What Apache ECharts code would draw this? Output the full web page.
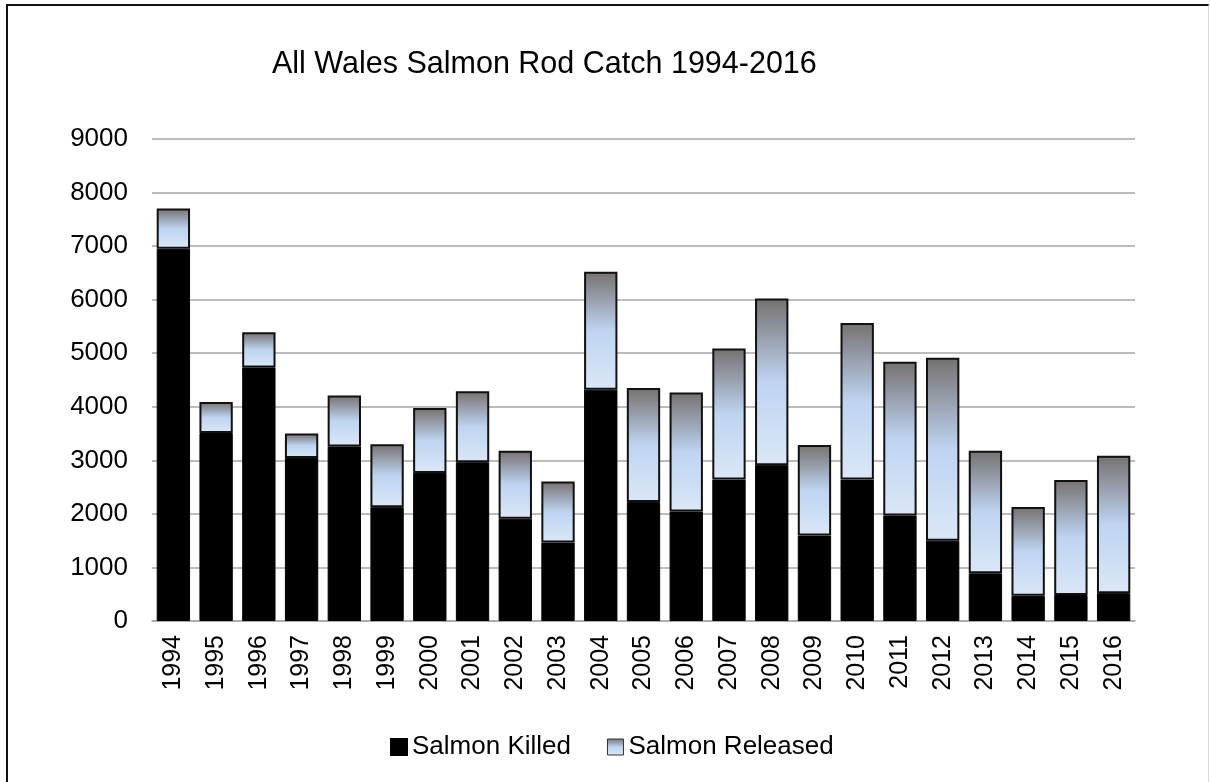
<!DOCTYPE html>
<html lang="en">

<head>
  <meta charset="UTF-8">
  <title>All Wales Salmon Rod Catch 1994-2016</title>
  <script src="https://cdn.jsdelivr.net/npm/echarts@6/dist/echarts.min.js"></script>
  <style>
    html, body { margin: 0; padding: 0; background: #fff; }
    #frame {
      position: absolute; left: 6px; top: 4px; width: 1200px; height: 790px;
      border-left: 2px solid #111; border-top: 2px solid #111; border-right: 1px solid #d9d9d9;
    }
    #c1 { position: absolute; left: 0; top: 0; width: 1210px; height: 782px; }
  </style>
</head>

<body>
<div id="frame"></div>
<div id="c1"></div>

<script>
  // catch per year
  var years = ['1994', '1995', '1996', '1997', '1998', '1999', '2000', '2001', '2002', '2003', '2004', '2005',
    '2006', '2007', '2008', '2009', '2010', '2011', '2012', '2013', '2014', '2015', '2016'];
  var killed = [6950, 3510, 4735, 3045, 3260, 2125, 2765, 2965, 1910, 1465, 4320, 2220,
    2045, 2640, 2910, 1595, 2640, 1970, 1500, 890, 470, 485, 520];
  var released = [750, 580, 655, 455, 950, 1175, 1210, 1325, 1270, 1140, 2200, 2130,
    2220, 2450, 3110, 1690, 2925, 2870, 3415, 2290, 1660, 2150, 2565];
  var yTicks = [0, 9000, 1000]; // min, max, step

  var chartDom = document.getElementById('c1');
  var myChart = echarts.init(chartDom);
  var font = "'Liberation Sans', Arial, sans-serif";

  var releasedFill = new echarts.graphic.LinearGradient(0, 0, 0, 1, [
    { offset: 0, color: '#767171' },
    { offset: 0.5, color: '#bed4f1' },
    { offset: 1, color: '#dbe7f7' }
  ]);

  var option = {
    animation: false,
    title: {
      text: 'All Wales Salmon Rod Catch 1994-2016',
      left: 267,
      top: 44,
      textStyle: { fontFamily: font, fontSize: 30.5, fontWeight: 'normal', color: '#000' }
    },
    legend: {
      left: 385,
      top: 728,
      itemWidth: 16,
      itemHeight: 16,
      itemGap: 36,
      textStyle: { fontFamily: font, fontSize: 26, color: '#000', lineHeight: 28 },
      data: [
        { name: 'Salmon Killed', icon: 'rect' },
        { name: 'Salmon Released', icon: 'rect', itemStyle: { borderColor: '#333', borderWidth: 1 } }
      ]
    },
    grid: {
      left: 152,
      right: 75,
      top: 139,
      bottom: 161
    },
    xAxis: {
      type: 'category',
      data: years,
      axisLine: { lineStyle: { color: '#a6a6a6', width: 1.5 } },
      axisTick: { show: false },
      axisLabel: {
        rotate: 90,
        margin: 14,
        fontFamily: font,
        fontSize: 25,
        color: '#000'
      }
    },
    yAxis: {
      type: 'value',
      min: yTicks[0],
      max: yTicks[1],
      interval: yTicks[2],
      axisLine: { show: false },
      axisTick: { show: false },
      splitLine: { lineStyle: { color: '#a6a6a6', width: 1.5 } },
      axisLabel: {
        margin: 24,
        fontFamily: font,
        fontSize: 26,
        color: '#000',
        formatter: function (v) { return String(v); }
      }
    },
    series: [
      {
        name: 'Salmon Killed',
        type: 'bar',
        stack: 'catch',
        barCategoryGap: '22%',
        data: killed,
        itemStyle: { color: '#000', borderColor: '#000', borderWidth: 1 }
      },
      {
        name: 'Salmon Released',
        type: 'bar',
        stack: 'catch',
        data: released,
        itemStyle: { color: releasedFill, borderColor: '#111', borderWidth: 2 }
      }
    ]
  };

  option && myChart.setOption(option);
</script>

</body>

</html>
